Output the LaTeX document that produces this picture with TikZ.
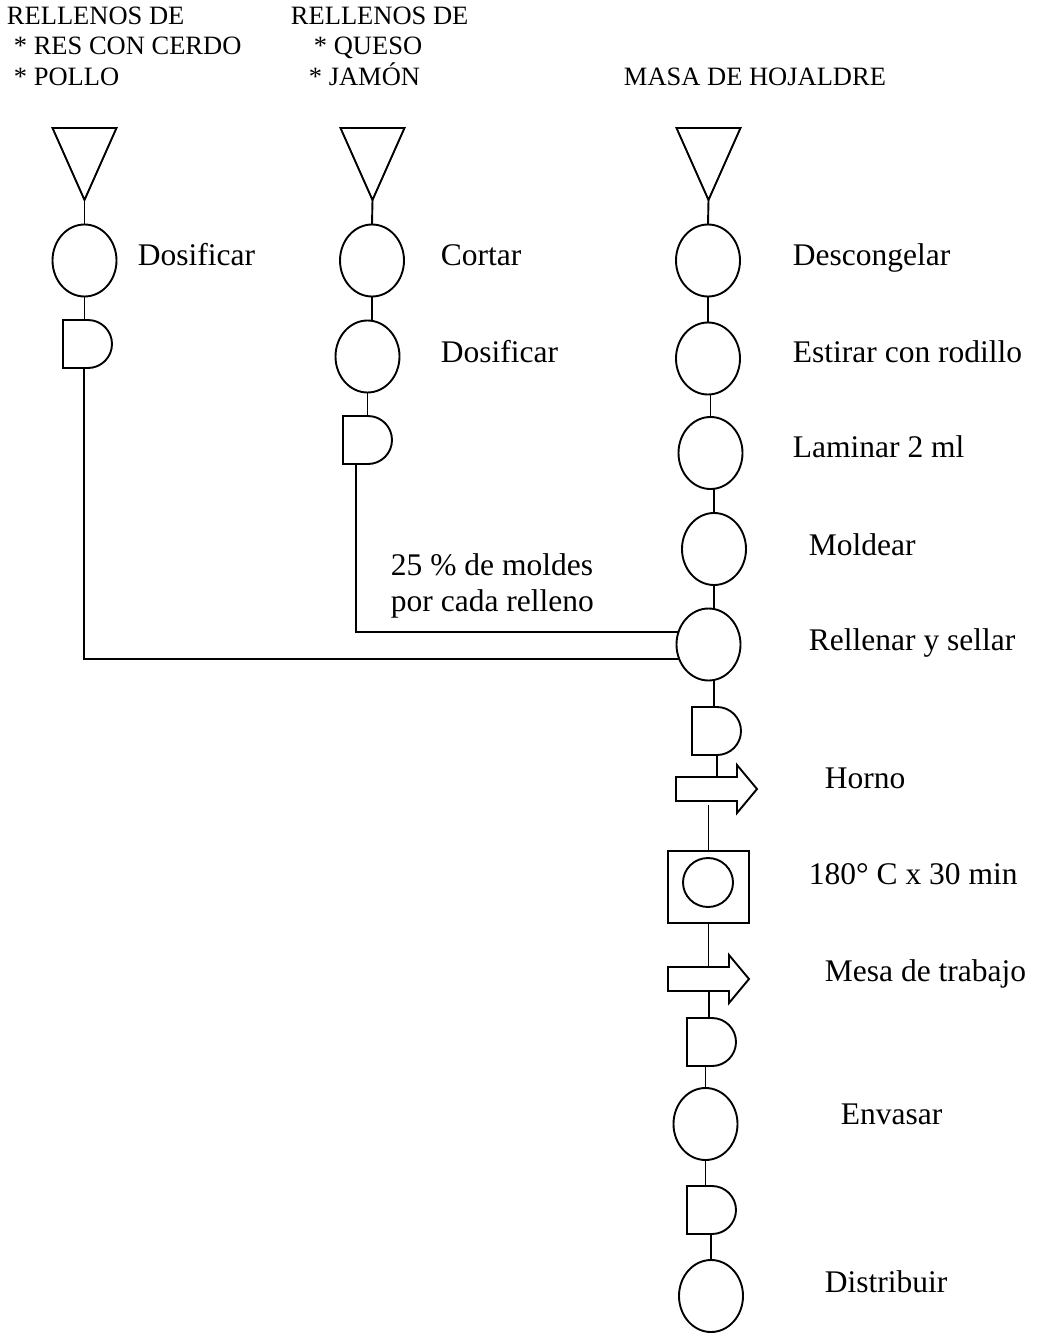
\documentclass[tikz,border=0pt]{standalone}
\usepackage{fontspec}
\setmainfont{Liberation Serif}
\usetikzlibrary{shapes.geometric}

% storage symbol: inverted triangle inside a named frame
\newcommand\storagesym[3]{% name, centre x, centre y
  \node[frame,minimum width=64pt,minimum height=72pt] (#1) at (#2,-#3) {};
  \draw (#1.north west) -- (#1.north east) -- (#1.south) -- cycle;}
% delay symbol: the "D" shape
\newcommand\delaysym[3]{% name, left x, top y
  \node[frame,minimum width=49pt,minimum height=48pt,anchor=north west] (#1) at (#2,-#3) {};
  \draw (#1.north west) -- ++(25,0) arc[start angle=90,end angle=-90,radius=24]
        -- (#1.south west) -- cycle;}
% transport symbol: block arrow pointing right
\newcommand\movesym[3]{% name, left x, shaft centre y
  \node[frame,minimum width=81pt,minimum height=48pt,anchor=west] (#1) at (#2,-#3) {};
  \draw ([yshift=12]#1.west) -- ++(61,0) -- ++(0,12) -- (#1.east) -- ++(-20,-24)
        -- ++(0,12) -- ([yshift=-12]#1.west) -- cycle;}

\begin{document}
\begin{tikzpicture}[x=1pt,y=1pt,line width=1.9pt,
  frame/.style={rectangle,inner sep=0pt,outer sep=0pt},
  op/.style={ellipse,draw,minimum width=64pt,minimum height=72pt,inner sep=0pt,outer sep=0pt},
  lbl/.style={anchor=base west,inner sep=0pt,font=\fontsize{31.5}{36}\selectfont},
  hdr/.style={anchor=base west,inner sep=0pt,align=left,font=\fontsize{26.5}{30.5}\selectfont},
]
\useasboundingbox (0,0) rectangle (1037,-1338);

% ---------- headers (base anchor = last line) ----------
\node[hdr] (h1) at (6,-85) {RELLENOS DE\\\hspace*{7pt}* RES CON CERDO\\\hspace*{7pt}* POLLO};
\node[hdr] (h2) at (290,-85) {RELLENOS DE\\\hspace*{23pt}* QUESO\\\hspace*{18pt}* JAMÓN};
\node[hdr] (h3) at (623,-85) {MASA DE HOJALDRE};

% ---------- left column ----------
\storagesym{lt}{84.5}{164}
\node[op] (l1) at (84.5,-260.5) {};
\delaysym{ld}{63}{320}
\node[lbl] (tl1) at (137,-265) {Dosificar};

% ---------- middle column ----------
\storagesym{mt}{372.5}{164}
\node[op] (m1) at (372,-260.5) {};
\node[op] (m2) at (367.5,-356.5) {};
\delaysym{md}{343}{416}
\node[lbl] (tm1) at (440,-265) {Cortar};
\node[lbl] (tm2) at (440,-362) {Dosificar};
\node[lbl,align=left] (tq) at (390,-611) {25 \% de moldes\\por cada relleno};

% ---------- right column ----------
\storagesym{rt}{708.5}{164}
\node[op] (r1) at (708,-260.5) {};
\node[op] (r2) at (708,-358.5) {};
\node[op] (r3) at (710.5,-453) {};
\node[op] (r4) at (714,-549) {};
\node[op] (r5) at (708.5,-644.5) {};
\delaysym{rd1}{692}{707}
\movesym{ha}{676}{789}
\node[frame,draw,minimum width=81pt,minimum height=72pt] (hb) at (708.5,-887) {};
\node[op,minimum width=50pt,minimum height=49pt] (hc) at (708,-882.5) {};
\movesym{hm}{668}{979}
\delaysym{rd2}{687}{1018}
\node[op] (r6) at (705.5,-1124) {};
\delaysym{rd3}{687}{1186}
\node[op] (r7) at (711,-1296) {};

\node[lbl] (tr1) at (792,-265) {Descongelar};
\node[lbl] (tr2) at (792,-362) {Estirar con rodillo};
\node[lbl] (tr3) at (792,-457) {Laminar 2 ml};
\node[lbl] (tr4) at (808,-555) {Moldear};
\node[lbl] (tr5) at (808,-650) {Rellenar y sellar};
\node[lbl] (tr6) at (824,-788) {Horno};
\node[lbl] (tr7) at (808,-884) {180° C x 30 min};
\node[lbl] (tr8) at (824,-981) {Mesa de trabajo};
\node[lbl] (tr9) at (840,-1124) {Envasar};
\node[lbl] (tr10) at (824,-1292) {Distribuir};

% ---------- connectors ----------
\draw (lt.south) -- (l1.north);
\draw (l1.south) -- (l1.south |- ld.north);
\draw ([xshift=21]ld.south west) |- (r5.206);

\draw (mt.south) -- (m1.north);
\draw (m1.south) -- (m1.south |- m2.north);
\draw (m2.south) -- (m2.south |- md.north);
\draw ([xshift=13]md.south west) |- (r5.157);

\draw (rt.south) -- (r1.north);
\draw (r1.south) -- (r2.north);
\draw (r3.north |- r2.south) -- (r3.north);
\draw (r4.north |- r3.south) -- (r4.north);
\draw (r4.south) -- (r4.south |- r5.north);
\draw (r4.south |- r5.south) -- (r4.south |- rd1.north);
\draw ([xshift=25]rd1.south west) -- +(0,-21);
\draw (hb.north) -- +(0,46);
\draw (hb.south) -- +(0,-44);
\draw ([xshift=22]rd2.north west) -- +(0,27);
\draw (r6.north) -- (r6.north |- rd2.south);
\draw (r6.south) -- (r6.south |- rd3.north);
\draw (r7.north |- rd3.south) -- (r7.north);
\end{tikzpicture}
\end{document}
